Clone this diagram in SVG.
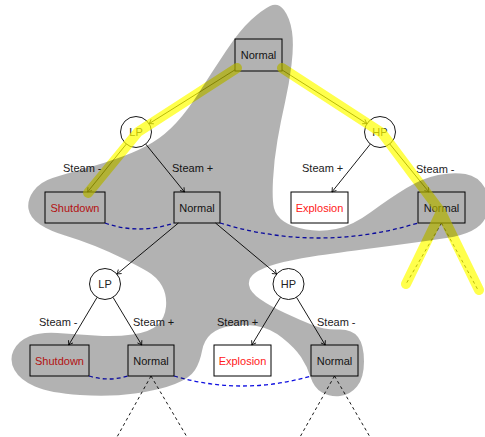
<svg xmlns="http://www.w3.org/2000/svg" width="485" height="437" viewBox="0 0 485 437">
  <style>
    .box { fill: none; stroke: #000; stroke-width: 1; }
    .st { fill: #fff; stroke: #000; stroke-width: 0.9; }
    .lbl { font-family: "Liberation Sans", Arial, sans-serif; font-size: 11px; fill: #222; }
    .mid { text-anchor: middle; }
    .bad { fill: #ff2020; }
    .edge { fill: none; stroke: #000; stroke-width: 0.9; marker-end: url(#tip); }
    .cont { fill: none; stroke: #000; stroke-width: 0.9; stroke-dasharray: 3 3; }
    .link { fill: none; stroke: #1010e0; stroke-width: 1.3; stroke-dasharray: 4 3; }
    .path-hl { fill: none; stroke: #ffff00; stroke-opacity: 0.7; stroke-width: 10; stroke-linecap: round; stroke-linejoin: round; }
    .region { fill: #000; fill-opacity: 0.3; stroke: none; }
  </style>
  <defs>
    <marker id="tip" viewBox="-5 -4 6 8" markerWidth="6" markerHeight="8" refX="0" refY="0" orient="auto" markerUnits="userSpaceOnUse">
      <path d="M-4,-2.6 Q-1.2,-0.6 0,0 Q-1.2,0.6 -4,2.6" fill="none" stroke="#000" stroke-width="0.8"/>
    </marker>
  </defs>
  <rect width="485" height="437" fill="#fff"/>

  <!-- level 0 -->
  <g id="n-root">
    <rect class="box" x="235" y="39" width="47" height="32"/>
    <text class="lbl mid" x="258.5" y="59">Normal</text>
  </g>

  <!-- level 1 decisions -->
  <g id="n-lp1">
    <circle class="st" cx="136" cy="132" r="15.5"/>
    <text class="lbl mid" x="136" y="136">LP</text>
  </g>
  <g id="n-hp1">
    <circle class="st" cx="380" cy="132" r="15.5"/>
    <text class="lbl mid" x="380" y="136">HP</text>
  </g>

  <!-- level 1 states -->
  <g id="n-shutdown1">
    <rect class="box" x="45" y="192" width="60" height="31"/>
    <text class="lbl mid bad" x="75" y="211.5">Shutdown</text>
  </g>
  <g id="n-normal1">
    <rect class="box" x="174" y="192" width="46" height="31"/>
    <text class="lbl mid" x="197" y="211.5">Normal</text>
  </g>
  <g id="n-explosion1">
    <rect class="box" x="291" y="192" width="57" height="31"/>
    <text class="lbl mid bad" x="319.5" y="211.5">Explosion</text>
  </g>
  <g id="n-normal1r">
    <rect class="box" x="418" y="192" width="47" height="31"/>
    <text class="lbl mid" x="441.5" y="211.5">Normal</text>
  </g>

  <!-- level 2 decisions -->
  <g id="n-lp2">
    <circle class="st" cx="105" cy="284" r="15.5"/>
    <text class="lbl mid" x="105" y="288">LP</text>
  </g>
  <g id="n-hp2">
    <circle class="st" cx="288.5" cy="284" r="15.5"/>
    <text class="lbl mid" x="288.5" y="288">HP</text>
  </g>

  <!-- level 2 states -->
  <g id="n-shutdown2">
    <rect class="box" x="30" y="345" width="59" height="31"/>
    <text class="lbl mid bad" x="59.5" y="364.5">Shutdown</text>
  </g>
  <g id="n-normal2">
    <rect class="box" x="128" y="345" width="46" height="31"/>
    <text class="lbl mid" x="151" y="364.5">Normal</text>
  </g>
  <g id="n-explosion2">
    <rect class="box" x="214" y="345" width="57" height="31"/>
    <text class="lbl mid bad" x="242.5" y="364.5">Explosion</text>
  </g>
  <g id="n-normal2r">
    <rect class="box" x="311" y="345" width="47" height="31"/>
    <text class="lbl mid" x="334.5" y="364.5">Normal</text>
  </g>

  <!-- transitions -->
  <g id="connectors">
    <path class="edge" d="M235,69.8 L149.1,123.7"/>
    <path class="edge" d="M282,69.9 L366.9,123.7"/>
    <path class="edge" d="M126.3,144.1 L87.5,192"/>
    <path class="edge" d="M145.7,144.1 L184.5,192"/>
    <path class="edge" d="M370.3,144.1 L331.9,192"/>
    <path class="edge" d="M389.8,144 L428.9,192"/>
    <path class="edge" d="M178.4,223 L116.9,274.1"/>
    <path class="edge" d="M215.5,223 L276.6,274.1"/>
    <path class="edge" d="M97.1,297.3 L68.7,345"/>
    <path class="edge" d="M113,297.3 L141.7,345"/>
    <path class="edge" d="M280.5,297.3 L251.8,345"/>
    <path class="edge" d="M296.5,297.3 L325.2,345"/>

    <path class="cont" d="M441.5,223 L406,284 M441.5,223 L478,290"/>
    <path class="cont" d="M151,376 L117,437 M151,376 L187,437"/>
    <path class="cont" d="M334.5,376 L300,437 M334.5,376 L370,437"/>

    <path class="link" d="M105,223 Q139.5,235 174,223"/>
    <path class="link" d="M220,223 Q319,253 418,223"/>
    <path class="link" d="M89,376 Q108.5,382 128,376"/>
    <path class="link" d="M174,376 Q242.5,396 311,376"/>

    <text class="lbl" x="63" y="172">Steam -</text>
    <text class="lbl" x="172" y="172">Steam +</text>
    <text class="lbl" x="302" y="172">Steam +</text>
    <text class="lbl" x="416" y="173">Steam -</text>
    <text class="lbl" x="39" y="326">Steam -</text>
    <text class="lbl" x="133" y="326">Steam +</text>
    <text class="lbl" x="217" y="326">Steam +</text>
    <text class="lbl" x="317" y="326">Steam -</text>
  </g>

  <!-- highlighted runs -->
  <path class="path-hl" d="M237,68 L138,132 L88,193"/>
  <path class="path-hl" d="M282,68 L382,133 L441,212 L406,284 M441,212 L479,290"/>

  <!-- shaded region -->
  <path class="region" d="M270,6 Q278,2 284,10 Q290,18 292,31.5 Q294,45 291.5,65 Q289,85 285,102.5 Q281,120 277.5,140 Q274,160 273,180 Q272,200 274,208 Q276,216 284,221.5 Q292,227 306,229.5 Q320,232 336,229 Q352,226 371,212 Q390,198 406.5,188 Q423,178 438,175 Q453,172 465.5,174 Q478,176 485,188 Q492,200 486,216.5 Q480,233 446.5,238 Q413,243 374,248 Q335,253 312.5,256.5 Q290,260 276,264 Q262,268 255,273 Q248,278 249,285 Q250,292 260,299 Q270,306 285,313 Q300,320 312.5,325 Q325,330 338.5,329.5 Q352,329 358,337 Q364,345 364,361.5 Q364,378 357,386.5 Q350,395 340,396 Q330,397 322,392.5 Q314,388 310.5,377 Q307,366 301,357 Q295,348 282.5,338 Q270,328 256.5,326 Q243,324 230.5,326 Q218,328 211,334 Q204,340 202,351 Q200,362 195,370 Q190,378 175,384 Q160,390 135,393.5 Q110,397 80,395 Q50,393 35,386.5 Q20,380 14.5,370 Q9,360 13.5,350.5 Q18,341 29,336.5 Q40,332 57.5,333 Q75,334 95,335.5 Q115,337 132.5,334.5 Q150,332 157.5,325 Q165,318 166,306.5 Q167,295 162,286 Q157,277 147.5,271.5 Q138,266 124,259 Q110,252 95,246 Q80,240 65,235.5 Q50,231 40,224.5 Q30,218 28.5,209 Q27,200 33.5,191 Q40,182 52.5,178 Q65,174 85,168.5 Q105,163 122.5,156.5 Q140,150 152.5,142.5 Q165,135 176.5,122.5 Q188,110 200,91 Q212,72 226,51 Q240,30 251,20 Q262,10 270,6 Z"/>
</svg>
